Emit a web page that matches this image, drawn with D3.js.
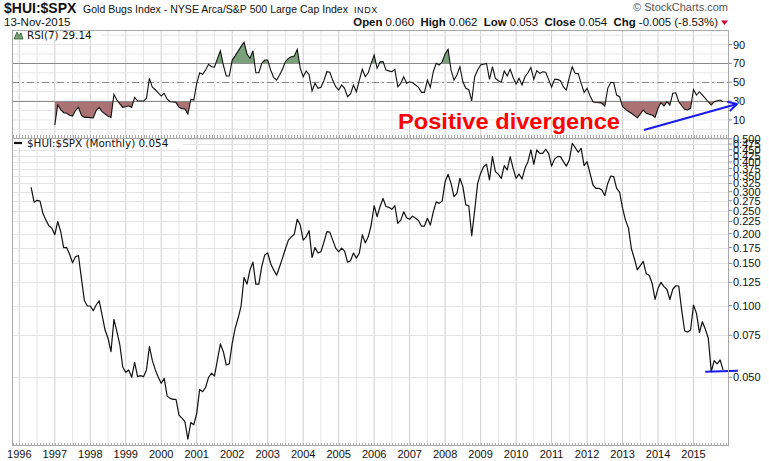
<!DOCTYPE html>
<html><head><meta charset="utf-8">
<script src="https://cdn.jsdelivr.net/npm/d3@7"></script>
<style>body{margin:0;background:#fff}svg{display:block;font-family:"Liberation Sans",Arial,sans-serif}</style>
</head><body><svg id="c" width="769" height="461"></svg>
<script>
// ---------- data ----------
const startYear = 1996, startMonth = 4; // first monthly close: May 1996
const ratio = [
0.313,0.271,0.276,0.274,0.243,0.228,0.216,0.211,0.198,0.225,
0.204,0.175,0.175,0.164,0.151,0.160,0.162,0.130,0.105,0.0995,
0.0995,0.0951,0.1005,0.1047,0.0912,0.0789,0.0729,0.0640,0.0875,0.0777,
0.0683,0.0551,0.0525,0.0537,0.0500,0.0578,0.0503,0.0508,0.0503,0.0537,
0.0672,0.0587,0.0537,0.0500,0.0472,0.0495,0.0417,0.0408,0.0404,0.0404,
0.0347,0.0337,0.0326,0.0275,0.0323,0.0316,0.0353,0.0445,0.0435,0.0454,
0.0500,0.0520,0.0506,0.0591,0.0690,0.0640,0.0563,0.0569,0.0694,0.0802,
0.0886,0.0995,
0.131,0.123,0.141,0.152,0.123,0.123,0.146,0.163,0.166,0.150,
0.141,0.134,0.145,0.158,0.173,0.188,0.194,0.199,0.230,0.2175,
0.188,0.194,0.206,0.159,0.175,0.166,0.168,0.184,0.204,0.203,
0.188,0.174,0.168,0.174,0.169,0.152,0.154,0.166,0.158,0.166,
0.198,0.183,0.194,0.2175,0.262,0.236,0.260,0.281,
0.260,0.258,0.253,0.262,0.221,0.228,0.247,0.233,0.230,0.237,
0.232,0.227,0.215,0.215,0.232,0.2175,0.247,0.272,0.268,0.274,
0.330,0.355,0.325,0.286,0.295,0.341,0.315,0.264,0.262,0.196,
0.251,0.325,0.358,0.382,0.391,0.336,0.421,0.364,0.355,0.341,
0.386,0.370,0.421,0.376,0.341,0.356,0.339,0.376,0.401,0.449,
0.391,0.449,0.434,0.434,0.452,0.434,0.384,0.411,0.421,0.421,
0.401,0.384,0.407,0.479,0.459,0.439,0.456,0.386,0.401,0.358,
0.320,0.310,0.310,0.305,0.289,0.325,0.349,0.347,0.310,0.299,
0.256,0.228,0.211,0.173,0.157,0.141,0.147,0.153,0.136,0.134,
0.124,0.106,
0.118,0.125,0.120,0.117,0.106,0.117,0.121,0.1207,0.0957,0.0782,
0.0774,0.0789,0.1005,0.0927,0.0769,0.0855,0.0795,0.0729,0.0528,0.0587,
0.0569,0.0591,0.0537
];
const rsiStart = 8; // RSI(7) begins at the 9th monthly close
const rsi = [
4.6,25.8,21,17.6,17,15,14.1,20,23.3,15,
12.7,12.7,12.4,12,20,23.3,18.7,16.2,14,12.7,
37.1,31.1,27,23.3,24,25,23.3,34,30.3,30,
30,33,54.1,44.6,42,38.8,35.3,38.2,32,29.3,
29,28.6,23.3,22,21.5,16.2,31.8,31.1,48.8,60,
58.4,62.9,69,66.4,66,75,83.4,68.2,56.6,56.6,
73.5,78,83,88,92.3,80,75.3,83.4,60,60,
70,73.5,73.5,62.9,55,52.3,57.6,63.7,72,75.3,
77,77.8,84.9,65,55.8,61.9,58,40.6,48.8,43.5,
44.6,51.6,61.1,60.5,52,45.2,41.7,47,43.5,34.6,
37.5,47,39.9,52.3,63.7,55.8,60,70,78.8,64.7,
71.7,72,62.9,62,61.1,63.7,45.2,48.8,55.8,48.8,
50.5,49.4,47,44.6,39.2,39.2,52.3,44.6,61.1,70,
68.2,71.7,80,84.9,62.9,52.3,57.6,66.4,50.5,43.5,
42,30.3,55.8,62.9,68.2,69,70,53,66.4,54.1,
51.6,50,61.9,56.6,63.7,55,48.1,54.1,47,55.8,
60,65.6,53,62.2,59.3,61.1,60.5,53,44.6,53,
53,51.6,45,41.7,55.2,66.4,59.3,59.3,48.8,39.2,
43.5,35.7,29.3,28.5,28.2,27.8,24.7,43.5,49.9,49.4,
36.4,34.6,24,21.2,19,17,14.5,12.3,16.2,20.5,
17,16,15.2,12.7,22.3,28.2,24.7,29.3,25.8,38.2,
38.8,29.3,25,21.2,20.5,22.3,42.4,36.4,39.9,36.4,
32.9,29,25.8,29.3,30.3,31.1,29.14
];
const yearLabels = d3.range(1996, 2016);
const ratioTicks = [0.050,0.075,0.100,0.125,0.150,0.175,0.200,0.225,0.250,0.275,0.300,0.325,0.350,0.375,0.400,0.425,0.450,0.475,0.500];
const rsiTicks = [10,30,50,70,90];
const rsiGrid = d3.range(0, 101, 10);
const rsiBands = [30,70];
const rsiMid = 50;
const lowMarkLevel = 0.053; // blue support line
const lowMarkFrom = 2015.33, lowMarkTo = 2016.25;

// ---------- layout ----------
const L = 12, R = 729, rTop = 30, rBot = 138, mTop = 138, mBot = 446;
const svg = d3.select("#c");
const x = d3.scaleLinear().domain([1995.794, 2016.0]).range([L, R]);
const yR = d3.scaleLinear().domain([-9.2, 105.4]).range([rBot, rTop]);
const yM = d3.scaleLog().domain([0.02576, 0.5038]).range([mBot, mTop]);
const tOf = i => startYear + (startMonth + i) / 12;

svg.append("rect").attr("width", 769).attr("height", 461).attr("fill", "#fff");

// vertical grids for both panels
const minorYears = d3.range(1995.5, 2016, 1).filter(t => x(t) > L && x(t) < R);
const majorYears = yearLabels.filter(t => x(t) > L && x(t) < R);
[[rTop, rBot], [mTop, mBot]].forEach(([t, b]) => {
  svg.append("g").selectAll("line").data(minorYears).join("line")
    .attr("x1", d => x(d)).attr("x2", d => x(d)).attr("y1", t).attr("y2", b)
    .attr("stroke", "#e6e6e6");
  svg.append("g").selectAll("line").data(majorYears).join("line")
    .attr("x1", d => x(d)).attr("x2", d => x(d)).attr("y1", t).attr("y2", b)
    .attr("stroke", "#cfcfcf");
});

// RSI horizontal grid
svg.append("g").selectAll("line").data(rsiGrid).join("line")
  .attr("x1", L).attr("x2", R).attr("y1", d => yR(d)).attr("y2", d => yR(d))
  .attr("stroke", "#e6e6e6");

// main horizontal grid
svg.append("g").selectAll("line").data(ratioTicks).join("line")
  .attr("x1", L).attr("x2", R).attr("y1", d => Math.round(yM(d)) + 0.5).attr("y2", d => Math.round(yM(d)) + 0.5)
  .attr("stroke", "#e3e3e3");

// RSI fills
const rsiPts = rsi.map((v, k) => ({ t: tOf(rsiStart + k), v }));
const defs = svg.append("defs");
defs.append("clipPath").attr("id", "above").append("rect")
  .attr("x", L).attr("y", rTop).attr("width", R - L).attr("height", yR(70) - rTop);
defs.append("clipPath").attr("id", "below").append("rect")
  .attr("x", L).attr("y", yR(30)).attr("width", R - L).attr("height", rBot - yR(30));
svg.append("path").datum(rsiPts).attr("clip-path", "url(#above)")
  .attr("fill", "#7aa27a")
  .attr("d", d3.area().x(d => x(d.t)).y0(yR(70)).y1(d => yR(d.v)));
svg.append("path").datum(rsiPts).attr("clip-path", "url(#below)")
  .attr("fill", "#aa7272")
  .attr("d", d3.area().x(d => x(d.t)).y0(yR(30)).y1(d => yR(d.v)));

// RSI level lines
svg.append("g").selectAll("line").data(rsiBands).join("line")
  .attr("x1", L).attr("x2", R).attr("y1", d => Math.round(yR(d)) + 0.5).attr("y2", d => Math.round(yR(d)) + 0.5)
  .attr("stroke", "#8a8a8a");
svg.append("line").attr("x1", L).attr("x2", R)
  .attr("y1", Math.round(yR(rsiMid)) + 0.5).attr("y2", Math.round(yR(rsiMid)) + 0.5)
  .attr("stroke", "#8a8a8a").attr("stroke-dasharray", "7,3,2,3");

// RSI line
svg.append("path").datum(rsiPts).attr("fill", "none").attr("stroke", "#111").attr("stroke-width", 1.1)
  .attr("d", d3.line().x(d => x(d.t)).y(d => yR(d.v)));

// main line
const mPts = ratio.map((v, i) => ({ t: tOf(i), v }));
svg.append("path").datum(mPts).attr("fill", "none").attr("stroke", "#111").attr("stroke-width", 1.2)
  .attr("stroke-linejoin", "round")
  .attr("d", d3.line().x(d => x(d.t)).y(d => yM(d.v)));

// blue support line
svg.append("line").attr("x1", x(lowMarkFrom)).attr("x2", x(lowMarkTo))
  .attr("y1", yM(lowMarkLevel) + 0.5).attr("y2", yM(lowMarkLevel) - 0.5)
  .attr("stroke", "#1a1aee").attr("stroke-width", 2);

// panel borders
svg.append("rect").attr("x", L + 0.5).attr("y", rTop + 0.5).attr("width", R - L - 1).attr("height", mBot - rTop - 1)
  .attr("fill", "none").attr("stroke", "#a8a8a8");
svg.append("line").attr("x1", L).attr("x2", R).attr("y1", rBot + 0.5).attr("y2", rBot + 0.5).attr("stroke", "#a8a8a8");

// monthly ticks along panel bottoms
const monthTicks = d3.range(0, 245).map(i => 1995.75 + i / 12).filter(t => x(t) > L && x(t) < R);
[rBot, mBot].forEach(b => {
  svg.append("g").selectAll("line").data(monthTicks).join("line")
    .attr("x1", d => Math.round(x(d)) + 0.5).attr("x2", d => Math.round(x(d)) + 0.5)
    .attr("y1", b - 3).attr("y2", b).attr("stroke", "#aaa");
});

// right axis: RSI
svg.append("g").selectAll("text").data(rsiTicks).join("text")
  .attr("x", 733).attr("y", d => yR(d) + 4).attr("font-size", 11).attr("fill", "#111").text(d => d);
svg.append("g").selectAll("line").data(rsiTicks).join("line")
  .attr("x1", R).attr("x2", R + 3).attr("y1", d => yR(d)).attr("y2", d => yR(d)).attr("stroke", "#888");

// right axis: main (labels crowd together near the top, as in the original)
svg.append("g").selectAll("text").data(ratioTicks).join("text")
  .attr("x", 733).attr("y", d => yM(d) + 4).attr("font-size", 11).attr("fill", "#111").text(d => d.toFixed(3));
svg.append("g").selectAll("line").data(ratioTicks).join("line")
  .attr("x1", R).attr("x2", R + 3).attr("y1", d => yM(d)).attr("y2", d => yM(d)).attr("stroke", "#888");

// x axis labels
svg.append("g").selectAll("text").data(yearLabels).join("text")
  .attr("x", d => x(d)).attr("y", 458).attr("text-anchor", "middle").attr("font-size", 11).attr("fill", "#111")
  .text(d => d);

// panel labels
const lab1 = svg.append("g");
lab1.append("rect").attr("x", 13).attr("y", 31).attr("width", 88).attr("height", 9).attr("fill", "#fff");
lab1.append("path").attr("d", "M14,39 L17,32 L19,36 L21,33 L23,39 Z").attr("fill", "#7aa27a").attr("stroke", "#2b5a2b").attr("stroke-width", 0.8);
lab1.append("text").attr("x", 27).attr("y", 38.5).attr("font-family", "DejaVu Sans, Verdana, sans-serif")
  .attr("font-size", 10.4).attr("fill", "#111").text("RSI(7) 29.14");
const lab2 = svg.append("g");
lab2.append("rect").attr("x", 13).attr("y", 139).attr("width", 170).attr("height", 9).attr("fill", "#fff");
lab2.append("line").attr("x1", 14).attr("x2", 22).attr("y1", 143).attr("y2", 143).attr("stroke", "#111").attr("stroke-width", 2.2);
lab2.append("text").attr("x", 27).attr("y", 146.5).attr("font-family", "DejaVu Sans, Verdana, sans-serif")
  .attr("font-size", 10.4).attr("fill", "#111").text("$HUI:$SPX (Monthly) 0.054");

// header
const hd = svg.append("g");
hd.append("text").attr("x", 4).attr("y", 13).attr("font-size", 14).attr("font-weight", "bold").attr("fill", "#111").text("$HUI:$SPX");
hd.append("text").attr("x", 83).attr("y", 13).attr("font-size", 11).attr("fill", "#111")
  .attr("textLength", 265).attr("lengthAdjust", "spacingAndGlyphs")
  .text("Gold Bugs Index - NYSE Arca/S&P 500 Large Cap Index");
hd.append("text").attr("x", 354).attr("y", 13).attr("font-size", 9).attr("fill", "#111").attr("letter-spacing", 0.6).text("INDX");
hd.append("text").attr("x", 4).attr("y", 25.5).attr("font-size", 11.5).attr("fill", "#111").text("13-Nov-2015");
hd.append("text").attr("x", 728).attr("y", 11).attr("text-anchor", "end").attr("font-size", 11).attr("fill", "#555").text("© StockCharts.com");
const ohlc = hd.append("text").attr("x", 718).attr("y", 25.5).attr("text-anchor", "end").attr("font-size", 11.4).attr("fill", "#111");
[["Open", true], [" 0.060  ", false], ["High", true], [" 0.062  ", false], ["Low", true], [" 0.053  ", false],
 ["Close", true], [" 0.054  ", false], ["Chg", true], [" -0.005 (-8.53%)", false]].forEach(([s, b]) => {
  ohlc.append("tspan").attr("font-weight", b ? "bold" : "normal").attr("xml:space", "preserve").text(s);
});
ohlc.style("white-space", "pre");
hd.append("path").attr("d", "M721,20.5 L728,20.5 L724.5,25 Z").attr("fill", "#cc0033");

// annotation
svg.append("text").attr("x", 398).attr("y", 128.5).attr("font-size", 22).attr("font-weight", "bold")
  .attr("fill", "#ff0000").attr("stroke", "#fff").attr("stroke-width", 1).attr("paint-order", "stroke")
  .attr("textLength", 222).attr("lengthAdjust", "spacingAndGlyphs").text("Positive divergence");
const ax0 = 644, ay0 = 130, ax1 = 737, ay1 = 104;
svg.append("line").attr("x1", ax0).attr("y1", ay0).attr("x2", ax1).attr("y2", ay1)
  .attr("stroke", "#1a1aee").attr("stroke-width", 2);
const ang = Math.atan2(ay1 - ay0, ax1 - ax0);
[-0.5, 0.5].forEach(o => {
  svg.append("line").attr("x1", ax1).attr("y1", ay1)
    .attr("x2", ax1 - 10 * Math.cos(ang + o)).attr("y2", ay1 - 10 * Math.sin(ang + o))
    .attr("stroke", "#1a1aee").attr("stroke-width", 2);
});
</script></body></html>
